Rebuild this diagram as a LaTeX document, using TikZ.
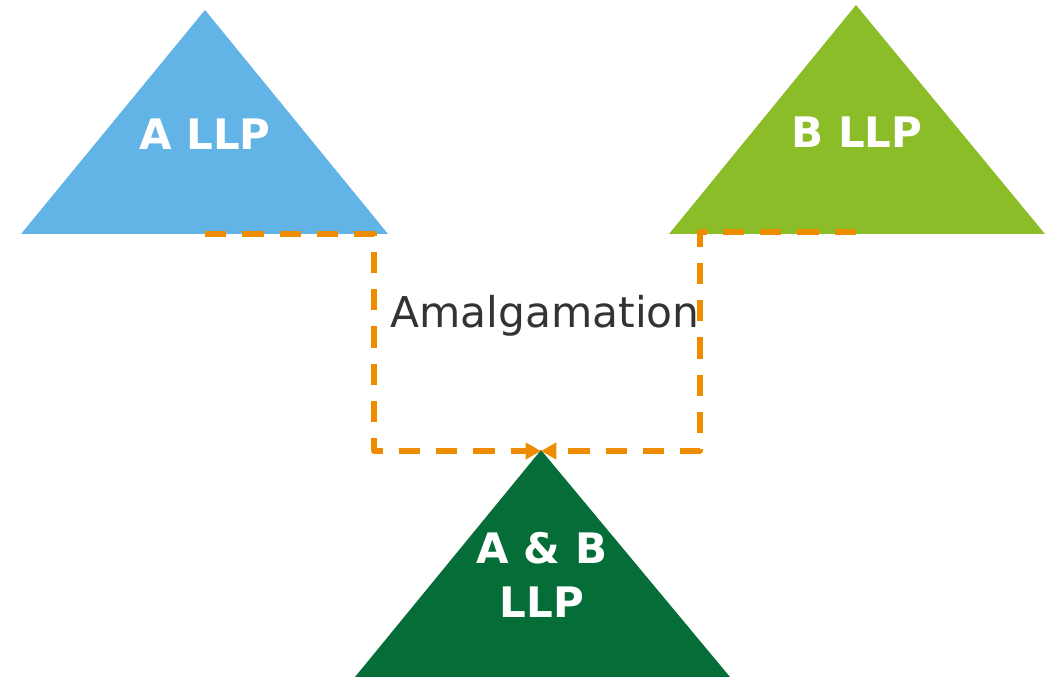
\documentclass[tikz,border=0pt]{standalone}
\usepackage{fontspec}
\setmainfont{DejaVu Sans}
\usetikzlibrary{arrows.meta}
\definecolor{llpblue}{RGB}{99,180,230}
\definecolor{llpgreen}{RGB}{138,189,40}
\definecolor{llpdark}{RGB}{5,109,56}
\definecolor{flowor}{RGB}{238,140,0}
\definecolor{txtgray}{RGB}{51,51,51}
\begin{document}
\begin{tikzpicture}[x=.75pt,y=-.75pt, line join=round,
    firm/.style={text=white, font=\bfseries\fontsize{31.5}{40.5}\selectfont, align=center, anchor=base},
    flow/.style={draw=flowor, line width=3.8pt, dash pattern=on 16pt off 12pt, -{Triangle[length=11.5pt,width=12pt]}}]
    \useasboundingbox (0,0) rectangle (1049,677);
    % the three firms
    \fill[llpblue] (21,234) -- (205,10) -- (388,234) -- cycle;
    \fill[llpgreen] (669,234) -- (856,5) -- (1045,234) -- cycle;
    \fill[llpdark] (355,677) -- (541,450) -- (730,677) -- cycle;
    \coordinate (aMid) at (205,234);
    \coordinate (bMid) at (856,232);
    \coordinate (abTop) at (541,451);
    \node[firm] (aLLP) at (205,150) {A LLP};
    \node[firm] (bLLP) at (857,148) {B LLP};
    \node[firm] (abLLP) at (542,617) {A \& B\\LLP};
    \node[anchor=base, text=txtgray, font=\fontsize{31.8}{38}\selectfont] (amalg) at (545,327) {Amalgamation};
    % merging
    \draw[flow] (aMid) -- ++(169,0) |- (abTop);
    \draw[flow] (bMid) -- ++(-156,0) |- (abTop);
\end{tikzpicture}
\end{document}
